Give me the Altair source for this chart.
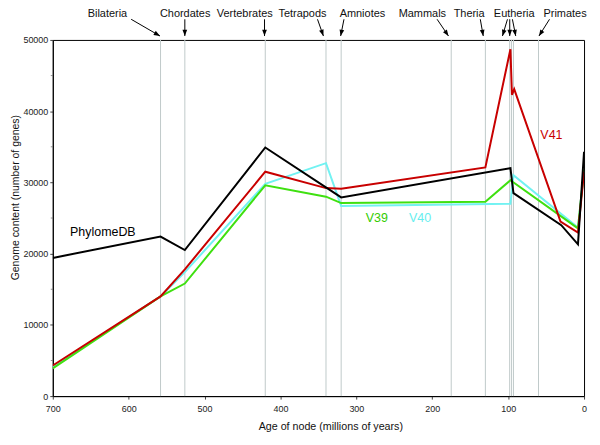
import math
import altair as alt
import pandas as pd

# ---------------- data ----------------
node_ages = [558, 526, 420, 340, 320, 175, 130, 98, 95.5, 93, 60]

phylome_ages = [700, 558, 526, 420, 320, 97, 93, 30, 8, 0]
phylome_genes = [19400, 22400, 20500, 34900, 27900, 32000, 28500, 24000, 21300, 34300]

v41_ages = [700, 558, 526, 420, 340, 320, 130, 97, 95, 92, 31, 8, 0]
v41_genes = [4300, 14000, 17800, 31500, 29200, 29100, 32100, 48700, 42300, 43100, 24500, 22950, 31500]

v40_ages = [700, 558, 526, 420, 340, 320, 97, 93, 8, 0]
v40_genes = [4100, 14000, 17400, 29800, 32700, 26700, 27000, 31000, 23650, 31600]

v39_ages = [700, 558, 526, 420, 340, 320, 130, 97, 8, 0]
v39_genes = [3900, 14000, 15800, 29600, 28000, 27100, 27300, 30300, 23550, 31800]

clade_names = ["Bilateria", "Chordates", "Vertebrates", "Tetrapods", "Amniotes",
               "Mammals", "Theria", "Eutheria", "Primates"]
clade_label_ages = [628, 525.6, 447, 371, 292, 213, 151.4, 92, 25]
clade_label_value = 53670

arrow_tail_ages = [596.7, 526, 421, 351.2, 316.3, 193.6, 136.7, 100.9, 97.9, 94.4, 45.5]
arrow_tip_ages = [558.7, 526, 421, 343.4, 320.7, 178.6, 132.8, 107.5, 97.9, 90.0, 59.4]
arrow_tail_value = 52900
arrow_tip_value = 50550

series_label_text = ["PhylomeDB", "V39", "V40", "V41"]
series_label_ages = [634, 273, 216, 43]
series_label_genes = [23000, 25000, 25000, 36600]

y_ticks = [0, 10000, 20000, 30000, 40000, 50000]
y_minor = [5000, 15000, 25000, 35000, 45000]
x_ticks = [700, 600, 500, 400, 300, 200, 100, 0]

# ---------------- styles ----------------
W, H = 534, 358
FONT = "Liberation Sans"
BLACK = "#000000"
RED = "#c80000"
GREEN = "#3fe010"
CYAN = "#72f2f2"
GUIDE = "#bfcaca"
series_label_colors = [BLACK, "#33cc00", "#66eeee", RED]

xscale = alt.Scale(domain=[0, 700], reverse=True, nice=False, zero=False)
yscale = alt.Scale(domain=[0, 50000], nice=False)

x_axis = alt.Axis(values=x_ticks, format="d", title="Age of node (millions of years)",
                  labelFont=FONT, labelFontSize=9, labelColor="#222", tickSize=3,
                  labelPadding=5, titleFont=FONT, titleFontSize=10.75,
                  titleFontWeight="normal", titleColor="#111",
                  titleX=279, titleY=31, titleBaseline="middle",
                  grid=False, domainColor=BLACK, tickColor="#444",
                  labelFlush=False)
y_axis = alt.Axis(values=y_ticks, format="d", title="Genome content (number of genes)",
                  labelFont=FONT, labelFontSize=9, labelColor="#222", tickSize=3,
                  labelPadding=2, titleFont=FONT, titleFontSize=10.5,
                  titleFontWeight="normal", titleColor="#111",
                  titleX=-37, titleY=158, titleBaseline="middle",
                  grid=False, domainColor=BLACK, tickColor="#444")


def X(field):
    return alt.X(field, type="quantitative", scale=xscale, axis=x_axis)


def Y(field):
    return alt.Y(field, type="quantitative", scale=yscale, axis=y_axis)


# guide lines at nodes
guides = alt.Chart(pd.DataFrame({
    "age": node_ages,
    "lo": [0] * len(node_ages),
    "hi": [50000] * len(node_ages),
})).mark_rule(color=GUIDE, strokeWidth=1).encode(
    x=X("age"), y=Y("lo"), y2="hi",
)


def series(ages, genes, color):
    df = pd.DataFrame({"age": ages, "genes": genes})
    return alt.Chart(df).mark_line(color=color, strokeWidth=2, clip=True).encode(
        x=X("age"), y=Y("genes"),
    )


l40 = series(v40_ages, v40_genes, CYAN)
l39 = series(v39_ages, v39_genes, GREEN)
l41 = series(v41_ages, v41_genes, RED)
lph = series(phylome_ages, phylome_genes, BLACK)

# minor ticks on y axis
minor = alt.Chart(pd.DataFrame({"genes": y_minor, "age": [700] * len(y_minor)})).mark_tick(
    orient="horizontal", size=2, thickness=1, color="#666", xOffset=-1
).encode(x=X("age"), y=Y("genes"))

# series labels
slab = alt.Chart(pd.DataFrame({
    "t": series_label_text, "age": series_label_ages,
    "genes": series_label_genes, "c": series_label_colors,
})).mark_text(font=FONT, fontSize=12.5, align="center", baseline="middle").encode(
    x=X("age"), y=Y("genes"),
    text="t:N",
    color=alt.Color("c:N", scale=None),
)

# clade labels above
clab = alt.Chart(pd.DataFrame({
    "t": clade_names, "age": clade_label_ages,
    "genes": [clade_label_value] * len(clade_names),
})).mark_text(font=FONT, fontSize=11, align="center", baseline="middle",
              color="#111").encode(
    x=X("age"), y=Y("genes"), text="t:N",
)

# arrows
px_age = W / 700.0
px_val = H / 50000.0
angles = []
for a0, a1 in zip(arrow_tail_ages, arrow_tip_ages):
    dx = -(a1 - a0) * px_age
    dy = -(arrow_tip_value - arrow_tail_value) * px_val
    angles.append(math.degrees(math.atan2(dx, -dy)) % 360)

arrow_df = pd.DataFrame({
    "age": arrow_tail_ages, "a1": arrow_tip_ages,
    "genes": [arrow_tail_value] * len(arrow_tail_ages),
    "v1": [arrow_tip_value] * len(arrow_tail_ages),
    "ang": angles,
})
shafts = alt.Chart(arrow_df).mark_rule(color=BLACK, strokeWidth=1).encode(
    x=X("age"), x2="a1:Q", y=Y("genes"), y2="v1:Q",
)
heads = alt.Chart(arrow_df).mark_point(
    shape="M0,0L-0.75,2L0.75,2Z", filled=True, color=BLACK, size=40, opacity=1
).encode(
    x=X("a1"), y=Y("v1"),
    angle=alt.Angle("ang:Q", scale=None),
)

chart = alt.layer(guides, minor, l40, l39, l41, lph, slab, clab, shafts, heads).properties(
    width=W, height=H,
    padding={"left": 45, "top": 31, "right": 8, "bottom": 40},
    autosize=alt.AutoSizeParams(type="none"),
).configure_view(stroke=BLACK, strokeWidth=1)

chart.save("out.html", embed_options={"renderer": "svg", "actions": False})
